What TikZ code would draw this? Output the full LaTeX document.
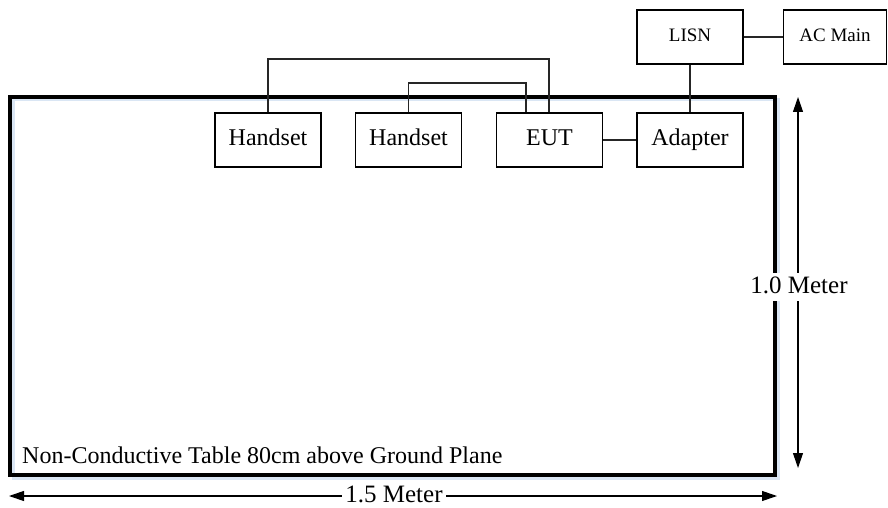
\documentclass[tikz,border=0pt]{standalone}
\usepackage{fontspec}
\setmainfont{Liberation Serif}
\usetikzlibrary{arrows.meta,calc}
\definecolor{shadowblue}{RGB}{218,230,244}
\tikzset{
  unitbox/.style={draw, line width=1.4pt, minimum width=106pt, minimum height=54pt, inner sep=0pt, text height=17pt, text depth=5pt, font=\fontsize{24}{28}\selectfont},
  smallbox/.style={unitbox, text height=13.5pt, text depth=4pt, font=\fontsize{19}{22}\selectfont},
  wire/.style={line width=1.2pt, draw=black!85},
  dim/.style={line width=1.1pt, {Triangle[length=15pt,width=10pt]}-{Triangle[length=15pt,width=10pt]}},
  dimlabel/.style={fill=white, inner sep=3pt, text height=17.5pt, text depth=5pt, font=\fontsize{25}{28}\selectfont},
  tablelabel/.style={anchor=west, inner sep=0pt, font=\fontsize{24}{28}\selectfont}
}
\begin{document}
\begin{tikzpicture}[x=1pt,y=-1pt]
\useasboundingbox (0,0) rectangle (888,508);
% table
\draw[shadowblue, line width=3pt] (13,100) rectangle (778,478);
\draw[line width=4pt] (10,97) rectangle (775,475);
% boxes
\node[unitbox] (h1) at (268,140) {Handset};
\node[unitbox] (h2) at (408.5,140) {Handset};
\node[unitbox] (eut) at (549.5,140) {EUT};
\node[unitbox] (adp) at (690,140) {Adapter};
\node[smallbox] (lisn) at (690,37) {LISN};
\node[smallbox, minimum width=103pt] (ac) at (835,37) {AC Main};
% wires
\coordinate (w1) at (549,59);
\coordinate (w2) at (526,83);
\draw[wire] (h1.north) |- (w1) -- (w1 |- eut.north);
\draw[wire] (h2.north) |- (w2) -- (w2 |- eut.north);
\draw[wire] (eut.east) -- (adp.west);
\draw[wire] (lisn.south) -- (adp.north);
\draw[wire] (lisn.east) -- (ac.west);
% table label
\node[tablelabel] (tl) at (22,455) {Non-Conductive Table 80cm above Ground Plane};
% dimensions
\coordinate (vt) at (798,97);
\coordinate (vb) at (798,468);
\draw[dim] (vt) -- (vb);
\node[dimlabel] (vlab) at (799,287) {1.0 Meter};
\coordinate (hl) at (9,496);
\coordinate (hr) at (777,496);
\draw[dim] (hl) -- (hr);
\node[dimlabel, inner ysep=0pt] (hlab) at (394,496) {1.5 Meter};
\end{tikzpicture}
\end{document}
